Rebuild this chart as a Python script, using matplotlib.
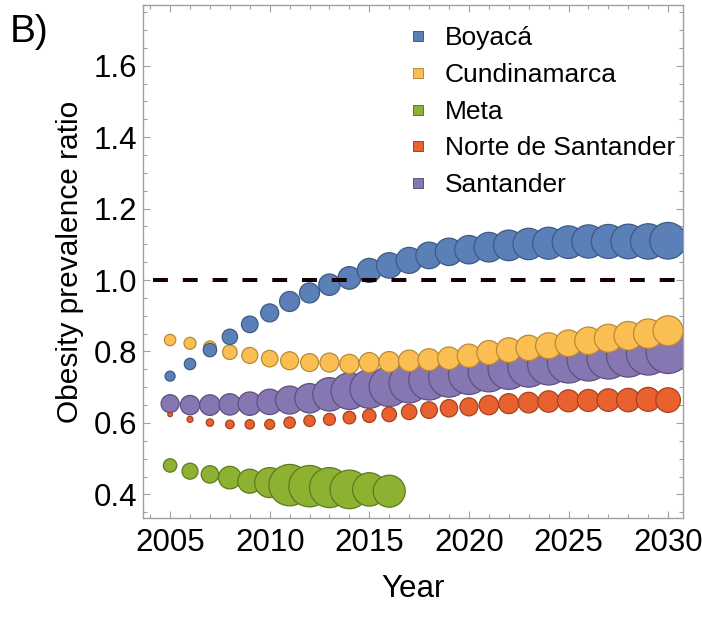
import numpy as np
import matplotlib
matplotlib.use("Agg")
import matplotlib.pyplot as plt
from matplotlib.lines import Line2D
from matplotlib.ticker import MultipleLocator

plt.rcParams['font.family'] = ['Liberation Sans', 'DejaVu Sans']

# data
years = list(range(2005, 2031))
years_meta = list(range(2005, 2017))

boyaca = [0.731, 0.765, 0.804, 0.841, 0.876, 0.908, 0.940, 0.964, 0.987, 1.006,
          1.027, 1.041, 1.055, 1.069, 1.079, 1.085, 1.092, 1.097, 1.101, 1.103,
          1.106, 1.108, 1.108, 1.108, 1.108, 1.110]
cundinamarca = [0.832, 0.823, 0.812, 0.798, 0.789, 0.780, 0.774, 0.769, 0.769, 0.765,
                0.769, 0.771, 0.774, 0.777, 0.781, 0.788, 0.797, 0.804, 0.810, 0.816,
                0.823, 0.830, 0.837, 0.844, 0.850, 0.858]
meta = [0.481, 0.465, 0.456, 0.447, 0.437, 0.433, 0.426, 0.423, 0.419, 0.414,
        0.414, 0.409]
norte = [0.624, 0.610, 0.601, 0.596, 0.596, 0.596, 0.601, 0.606, 0.610, 0.615,
         0.620, 0.624, 0.631, 0.636, 0.641, 0.645, 0.650, 0.654, 0.657, 0.660,
         0.662, 0.663, 0.664, 0.664, 0.666, 0.664]
santander = [0.654, 0.650, 0.650, 0.652, 0.654, 0.659, 0.664, 0.669, 0.680, 0.689,
             0.695, 0.702, 0.712, 0.721, 0.729, 0.737, 0.745, 0.752, 0.759, 0.765,
             0.771, 0.777, 0.783, 0.789, 0.795, 0.800]

# relative bubble sizes (radius-like)
boyaca_z = [5.0, 5.7, 6.7, 7.7, 8.3, 9.0, 10.0, 10.0, 10.7, 11.3, 12.0, 12.7, 13.0,
            13.3, 13.7, 14.2, 14.8, 15.3, 15.7, 16.0, 16.3, 16.6, 17.0, 17.3, 17.7, 18.3]
cundinamarca_z = [5.7, 6.0, 6.3, 7.3, 8.0, 8.3, 9.0, 9.0, 9.5, 9.7, 10.0, 10.3, 10.7,
                  11.0, 11.3, 11.7, 12.0, 12.3, 12.7, 13.0, 13.3, 13.7, 14.0, 14.3, 14.7, 15.0]
meta_z = [6.7, 8.0, 8.7, 11.3, 12.0, 15.0, 20.7, 20.7, 20.0, 19.3, 16.7, 16.0]
norte_z = [2.3, 3.0, 3.7, 4.3, 4.7, 5.0, 5.7, 5.7, 6.0, 6.3, 6.7, 7.3, 7.7, 8.3, 8.7,
           9.0, 9.7, 10.0, 10.3, 10.7, 11.0, 11.0, 11.3, 11.7, 12.0, 12.3]
santander_z = [9.0, 9.7, 10.3, 10.7, 11.7, 12.7, 14.0, 14.7, 16.7, 18.3, 19.3, 20.0,
               20.0, 20.3, 20.3, 20.5, 20.7, 20.7, 21.0, 21.0, 21.2, 21.3, 21.5, 21.7,
               21.8, 22.0]

labels = ['Boyacá', 'Cundinamarca', 'Meta', 'Norte de Santander', 'Santander']
fills = ['#5b80b7', '#fbbe52', '#8db131', '#e9612f', '#8676b2']
edges = ['#3d5a85', '#b98a36', '#5f7a1f', '#a4431f', '#5d5180']

series = [(years, boyaca, boyaca_z), (years, cundinamarca, cundinamarca_z),
          (years_meta, meta, meta_z), (years, norte, norte_z),
          (years, santander, santander_z)]

fig = plt.figure(figsize=(7.02, 6.19), dpi=100)
ax = fig.add_axes([0.2037, 0.1632, 0.7693, 0.8288])

# draw Santander first so Boyacá ends up on top
for i in [4, 3, 2, 1, 0]:
    x, y, z = series[i]
    s = (1.44 * np.array(z)) ** 2
    ax.scatter(x, y, s=s, color=fills[i], edgecolors=edges[i], linewidths=0.9,
               zorder=2 + (4 - i))

ax.axhline(1.0, xmin=0.0185, xmax=0.9907, color='#140000', lw=2.9,
           dashes=(3.7, 3.7), zorder=10)

ax.set_xlim(2003.64, 2030.75)
ax.set_ylim(0.334, 1.77)
ax.xaxis.set_major_locator(MultipleLocator(5))
ax.xaxis.set_minor_locator(MultipleLocator(1))
ax.yaxis.set_major_locator(MultipleLocator(0.2))
ax.yaxis.set_minor_locator(MultipleLocator(0.05))
ax.yaxis.set_major_formatter(matplotlib.ticker.FormatStrFormatter('%.1f'))

for sp in ax.spines.values():
    sp.set_color('#a0a0a0')
    sp.set_linewidth(1.0)
ax.tick_params(which='both', direction='in', top=True, right=True, color='#a0a0a0',
               labelsize=22.5, width=0.8)
ax.tick_params(which='major', length=5)
ax.tick_params(which='minor', length=3)
ax.tick_params(axis='x', pad=7)
ax.tick_params(axis='y', pad=4)

ax.set_xlabel('Year', fontsize=22.5, labelpad=12)
ax.set_ylabel('Obesity prevalence ratio', fontsize=21.5, labelpad=7)

handles = [Line2D([], [], ls='none', marker='s', markersize=7, markerfacecolor=fills[i],
                  markeredgecolor=edges[i], markeredgewidth=0.7) for i in range(5)]
ax.legend(handles, labels, loc='upper left', bbox_to_anchor=(0.49, 0.958), frameon=False,
          fontsize=19, handlelength=0.8, handletextpad=0.6, labelspacing=0.48,
          borderpad=0, borderaxespad=0)

fig.text(0.014, 0.978, 'B)', fontsize=28, va='top', ha='left')

fig.savefig('out.png', dpi=100)
